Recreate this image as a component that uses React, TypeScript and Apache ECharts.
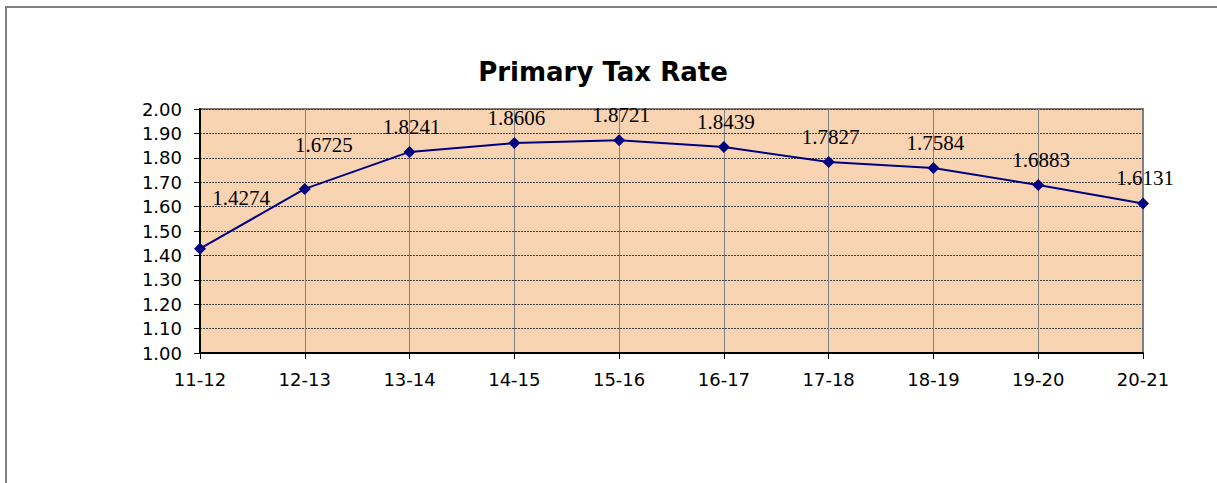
import React, { useEffect, useRef } from "react";
import * as echarts from "echarts";

const categories = ["11-12", "12-13", "13-14", "14-15", "15-16", "16-17", "17-18", "18-19", "19-20", "20-21"];
const rates = [1.4274, 1.6725, 1.8241, 1.8606, 1.8721, 1.8439, 1.7827, 1.7584, 1.6883, 1.6131];
const labelOffsets: [number, number][] = [
  [41, -51], [19, -44], [2, -25], [2, -25], [2, -25], [2, -25], [2, -25], [2, -25], [3, -25], [2, -25],
];

export default function App() {
  const ref = useRef<HTMLDivElement>(null);
  useEffect(() => {
    const chart = echarts.init(ref.current!, null, { renderer: "svg" });
    chart.setOption({
      animation: false,
      backgroundColor: "#ffffff",
      title: {
        text: "Primary Tax Rate",
        left: 598,
        top: 54,
        textAlign: "center",
        textStyle: { fontFamily: "DejaVu Sans", fontWeight: "bold", fontSize: 26, color: "#000" },
      },
      graphic: [
        {
          type: "rect",
          shape: { x: 6, y: 7, width: 1400, height: 700 },
          style: { fill: "none", stroke: "#7f7f7f", lineWidth: 2 },
          silent: true,
        },
      ],
      grid: {
        left: 200,
        right: 74,
        top: 109,
        bottom: 130,
        show: true,
        backgroundColor: "#F9D4B2",
        borderColor: "#808080",
        borderWidth: 2,
      },
      xAxis: {
        type: "category",
        data: categories,
        boundaryGap: false,
        axisLine: { lineStyle: { color: "#000", width: 2 } },
        axisTick: { show: true, length: 6, inside: false, lineStyle: { color: "#000" } },
        axisLabel: { fontFamily: "DejaVu Sans", fontSize: 18, color: "#000", margin: 17 },
        splitLine: { show: true, lineStyle: { color: "#808080", width: 1, type: "solid" } },
      },
      yAxis: {
        type: "value",
        min: 1,
        max: 2,
        interval: 0.1,
        axisLine: { show: true, lineStyle: { color: "#000", width: 2 } },
        axisTick: { show: true, length: 6, lineStyle: { color: "#000" } },
        axisLabel: {
          fontFamily: "DejaVu Sans",
          fontSize: 18,
          color: "#000",
          margin: 18,
          formatter: (v: number) => v.toFixed(2),
        },
        splitLine: { show: true, lineStyle: { color: "#404040", width: 1, type: [2, 1] } },
      },
      series: [
        {
          type: "line",
          data: rates.map((v, i) => ({
            value: v,
            label: { offset: labelOffsets[i] },
          })),
          symbol: "diamond",
          symbolSize: 12,
          itemStyle: { color: "#000080" },
          lineStyle: { color: "#000080", width: 2 },
          label: {
            show: true,
            position: "inside",
            fontFamily: "Liberation Serif",
            fontSize: 21,
            color: "#000",
            formatter: (p: any) => p.value.toFixed(4),
          },
        },
      ],
    });
    return () => chart.dispose();
  }, []);
  return (
    <div
      ref={ref}
      style={{ position: "fixed", left: 0, top: 0, width: 1217, height: 483 }}
    />
  );
}
